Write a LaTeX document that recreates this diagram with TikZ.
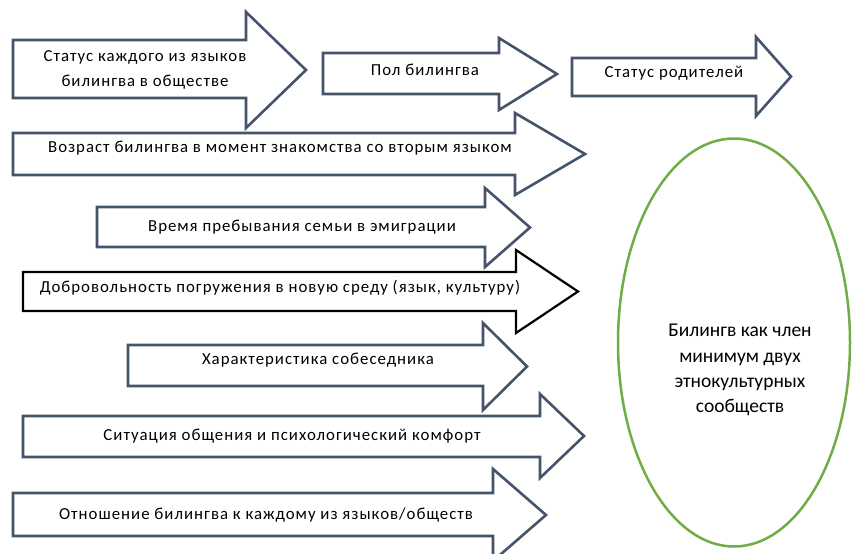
\documentclass[tikz,border=0pt]{standalone}
\usepackage{fontspec}
\setmainfont{Carlito}
\newfontfamily\arrowfont[LetterSpace=6]{Carlito}
\usetikzlibrary{shapes.geometric}
\definecolor{arrowblue}{RGB}{68,84,106}
\definecolor{ovalgreen}{RGB}{112,173,71}
\newcommand\fatarrow[8]{%
  \draw[#1] (#2,#3) -- (#5,#3) -- (#5,#6) -- (#8,{(#6+#7)/2}) -- (#5,#7) -- (#5,#4) -- (#2,#4) -- cycle;}
\begin{document}
\begin{tikzpicture}[x=1pt,y=-1pt,
  farrow/.style={draw=arrowblue, line width=2.6pt, fill=white, line join=miter},
  blackarrow/.style={draw=black, line width=2.2pt, fill=white, line join=miter},
  lbl/.style={font=\arrowfont\fontsize{16.8}{25}\selectfont, inner sep=0pt, align=center},
  ovaltext/.style={font=\fontsize{19.5}{25.3}\selectfont, inner sep=0pt, align=center},
]
\useasboundingbox (0,0) rectangle (852,554);
\clip (0,0) rectangle (852,554);
\fill[white] (0,0) rectangle (852,554);
% arrows
\fatarrow{farrow}{13}{40}{98}{246}{12}{128}{306}
\node[lbl] (t1) at (145,70) {Статус каждого из языков\\билингва в обществе};
\fatarrow{farrow}{323}{53}{94}{499}{38}{110}{557}
\node[lbl] (t2) at (425,70) {Пол билингва};
\fatarrow{farrow}{572}{58}{96}{756}{37}{116}{791}
\node[lbl] (t3) at (674,73) {Статус родителей};
\fatarrow{farrow}{13}{133}{175}{515}{113}{195}{585}
\node[lbl] (t4) at (280,148) {Возраст билингва в момент знакомства со вторым языком};
\fatarrow{farrow}{97}{207}{247}{485}{188}{267}{530}
\node[lbl] (t5) at (302,227) {Время пребывания семьи в эмиграции};
\fatarrow{blackarrow}{23}{272}{311}{516}{250}{333}{578}
\node[lbl] (t6) at (280,288) {Добровольность погружения в новую среду (язык, культуру)};
\fatarrow{farrow}{128}{345}{386}{483}{323}{410}{527}
\node[lbl] (t7) at (318,360) {Характеристика собеседника};
\fatarrow{farrow}{23}{416}{457}{540}{394}{478}{584}
\node[lbl] (t8) at (292,436) {Ситуация общения и психологический комфорт};
\fatarrow{farrow}{13}{493}{536}{493}{469}{561}{546}
\node[lbl] (t9) at (266,515) {Отношение билингва к каждому из языков/обществ};
% oval
\node[ellipse, draw=ovalgreen, line width=2.5pt, minimum width=232pt, minimum height=408pt, inner sep=0pt] (oval) at (734,342.5) {};
\node[ovaltext] (ot) at (740,370) {Билингв как член\\минимум двух\\этнокультурных\\сообществ};
\end{tikzpicture}
\end{document}
